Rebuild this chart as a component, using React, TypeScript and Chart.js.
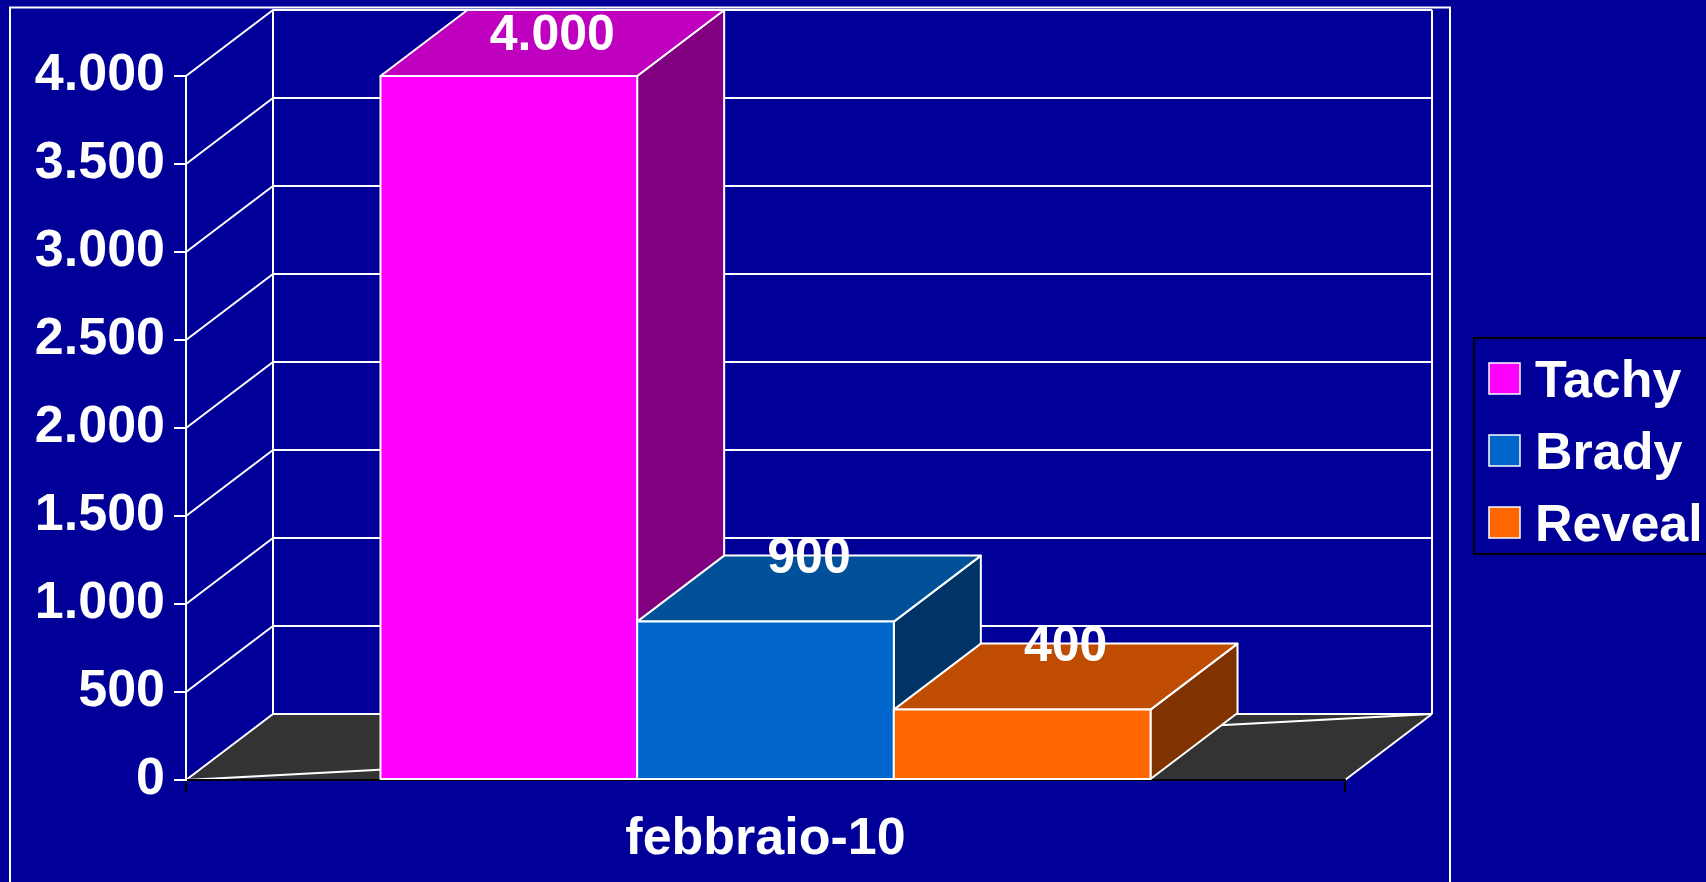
import React, { useEffect, useRef } from 'react';
import { Chart, registerables } from 'chart.js';

Chart.register(...registerables);

// ---- data ----
const categories = ['febbraio-10'];
const seriesNames = ['Tachy', 'Brady', 'Reveal'];
const tachyValues = [4000];
const bradyValues = [900];
const revealValues = [400];
const yMin = 0;
const yMax = 4000;
const yStep = 500;

// ---- styles ----
const frontColors = ['#FF00FF', '#0066CC', '#FF6600'];
const topColors = ['#BF00BF', '#00509A', '#BF4C00'];
const sideColors = ['#800080', '#003366', '#803300'];
const BG = '#000099';
const FLOOR = '#333333';
const FAMILY = "'Liberation Sans', Arial, Helvetica, sans-serif";
const DX = 87;
const DY = 66;
const LW = 2;

const fmt = (v: number | string) =>
  String(v).replace(/\B(?=(\d{3})+(?!\d))/g, '.');

const line = (ctx: CanvasRenderingContext2D, pts: number[][]) => {
  ctx.beginPath();
  ctx.moveTo(pts[0][0], pts[0][1]);
  for (let i = 1; i < pts.length; i++) ctx.lineTo(pts[i][0], pts[i][1]);
  ctx.stroke();
};

const poly = (ctx: CanvasRenderingContext2D, pts: number[][], fill: string) => {
  ctx.beginPath();
  ctx.moveTo(pts[0][0], pts[0][1]);
  for (let i = 1; i < pts.length; i++) ctx.lineTo(pts[i][0], pts[i][1]);
  ctx.closePath();
  ctx.fillStyle = fill;
  ctx.fill();
  ctx.stroke();
};

const threeDPlugin = {
  id: 'threeD',
  beforeDraw(chart: any) {
    const { ctx, chartArea: a, scales } = chart;
    const ys = scales.y;
    ctx.save();
    ctx.fillStyle = BG;
    ctx.fillRect(0, 0, chart.width, chart.height);
    // outer frame
    ctx.strokeStyle = '#FFFFFF';
    ctx.lineWidth = 2;
    ctx.strokeRect(10, 7.5, 1440, 900);

    const y0 = ys.getPixelForValue(yMin);
    const yTop = ys.getPixelForValue(yMax);
    ctx.lineWidth = LW;
    ctx.strokeStyle = '#FFFFFF';
    // floor
    ctx.beginPath();
    ctx.moveTo(a.left, y0);
    ctx.lineTo(a.right, y0);
    ctx.lineTo(a.right + DX, y0 - DY);
    ctx.lineTo(a.left + DX, y0 - DY);
    ctx.closePath();
    ctx.fillStyle = FLOOR;
    ctx.fill();
    // walls gridlines
    ys.ticks.forEach((t: any) => {
      const py = ys.getPixelForValue(t.value);
      line(ctx, [[a.left, py], [a.left + DX, py - DY], [a.right + DX, py - DY]]);
    });
    line(ctx, [[a.left + DX, yTop - DY], [a.left + DX, y0 - DY]]);
    line(ctx, [[a.right + DX, yTop - DY], [a.right + DX, y0 - DY]]);
    line(ctx, [[a.right, y0], [a.right + DX, y0 - DY]]);
    line(ctx, [[a.left, y0], [a.right + DX, y0 - DY]]);
    ctx.restore();
  },
  beforeDatasetsDraw(chart: any) {
    const { ctx, chartArea: a } = chart;
    ctx.save();
    ctx.strokeStyle = '#FFFFFF';
    ctx.lineWidth = LW;
    ctx.lineJoin = 'round';
    chart.data.datasets.forEach((ds: any, i: number) => {
      const meta = chart.getDatasetMeta(i);
      meta.data.forEach((el: any) => {
        const { x, y, base, width } = el.getProps(['x', 'y', 'base', 'width'], true);
        const l = x - width / 2;
        const r = x + width / 2;
        poly(ctx, [[r, y], [r + DX, y - DY], [r + DX, base - DY], [r, base]], sideColors[i]);
        poly(ctx, [[l, y], [r, y], [r + DX, y - DY], [l + DX, y - DY]], topColors[i]);
        poly(ctx, [[l, y], [r, y], [r, base], [l, base]], frontColors[i]);
      });
    });
    // data labels
    ctx.fillStyle = '#FFFFFF';
    ctx.font = `bold 50px ${FAMILY}`;
    ctx.textAlign = 'center';
    ctx.textBaseline = 'alphabetic';
    chart.data.datasets.forEach((ds: any, i: number) => {
      const meta = chart.getDatasetMeta(i);
      meta.data.forEach((el: any, j: number) => {
        const { x, y } = el.getProps(['x', 'y'], true);
        const by = Math.max(y - DY / 2 - 16, a.top - DY + 40);
        ctx.fillText(fmt(ds.data[j]), x + DX / 2, by);
      });
    });
    ctx.restore();
    return false;
  },
  afterDraw(chart: any) {
    const { ctx } = chart;
    ctx.save();
    // legend box
    ctx.strokeStyle = '#000000';
    ctx.lineWidth = 2;
    ctx.strokeRect(1474, 338, 260, 216);
    ctx.font = `bold 52px ${FAMILY}`;
    ctx.textAlign = 'left';
    ctx.textBaseline = 'alphabetic';
    chart.data.datasets.forEach((ds: any, i: number) => {
      const sy = 363 + i * 72;
      ctx.fillStyle = ds.backgroundColor;
      ctx.fillRect(1489, sy, 31, 31);
      ctx.strokeStyle = '#FFFFFF';
      ctx.lineWidth = 1.5;
      ctx.strokeRect(1489, sy, 31, 31);
      ctx.fillStyle = '#FFFFFF';
      ctx.fillText(ds.label, 1535, sy + 34);
    });
    ctx.restore();
  },
};

export default function App() {
  const ref = useRef<HTMLCanvasElement>(null);
  useEffect(() => {
    if (!ref.current) return;
    const seriesValues = [tachyValues, bradyValues, revealValues];
    const chart = new Chart(ref.current, {
      type: 'bar',
      data: {
        labels: categories,
        datasets: seriesNames.map((name, i) => ({
          label: name,
          data: seriesValues[i],
          backgroundColor: frontColors[i],
          categoryPercentage: 0.6644,
          barPercentage: 1,
        })),
      },
      options: {
        responsive: false,
        animation: false,
        devicePixelRatio: 1,
        layout: { padding: { left: 0, top: 76, right: 361, bottom: 0 } },
        plugins: { legend: { display: false }, tooltip: { enabled: false } },
        scales: {
          x: {
            grid: { drawOnChartArea: false, drawTicks: true, tickLength: 12, color: '#000000', lineWidth: 2 },
            border: { color: '#000000', width: 2 },
            ticks: { color: '#FFFFFF', font: { family: FAMILY, size: 52, weight: 'bold' }, padding: 16 },
            afterFit: (s: any) => { s.height = 102; },
          },
          y: {
            min: yMin,
            max: yMax,
            ticks: {
              stepSize: yStep,
              color: '#FFFFFF',
              font: { family: FAMILY, size: 52, weight: 'bold' },
              padding: 9,
              callback: (v: any) => fmt(v),
            },
            grid: { drawOnChartArea: false, drawTicks: true, tickLength: 12, color: '#FFFFFF', lineWidth: LW },
            border: { color: '#FFFFFF', width: LW },
            afterFit: (s: any) => { s.width = 186; },
          },
        },
      } as any,
      plugins: [threeDPlugin],
    });
    return () => chart.destroy();
  }, []);
  return (
    <div style={{ position: 'fixed', left: 0, top: 0, width: 1706, height: 882, background: BG }}>
      <canvas ref={ref} width={1706} height={882} style={{ display: 'block', width: 1706, height: 882 }} />
    </div>
  );
}
